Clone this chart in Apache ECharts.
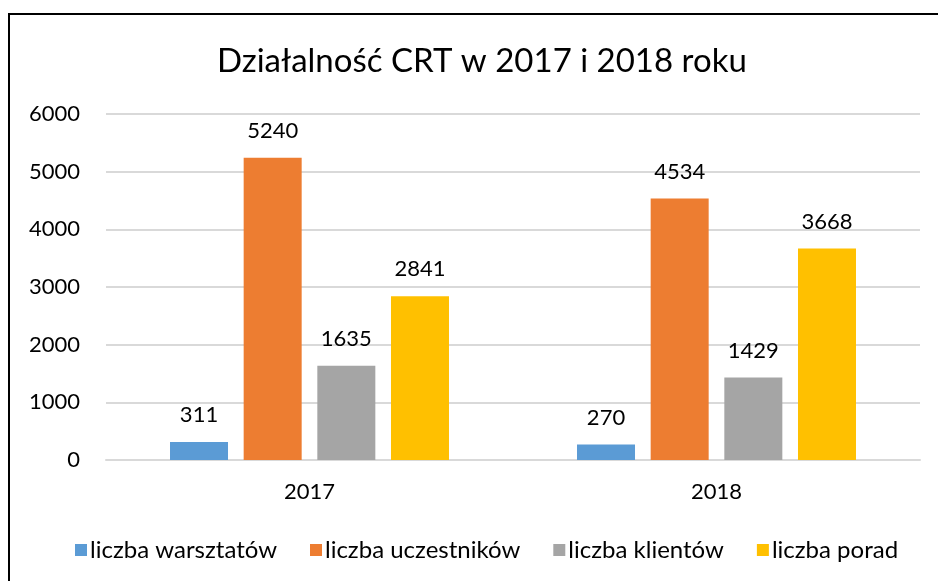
<!DOCTYPE html>
<html>
<head>
<meta charset="utf-8">
<script src="https://cdn.jsdelivr.net/npm/echarts@6/dist/echarts.min.js"></script>
<style>
  html, body { margin: 0; padding: 0; background: #fff; }
  #chart { width: 938px; height: 581px; }
</style>
</head>
<body>
<div id="chart"></div>
<script>
var years = ['2017', '2018'];
var seriesNames = ['liczba warsztatów', 'liczba uczestników', 'liczba klientów', 'liczba porad'];
var warsztaty = [311, 270];
var uczestnicy = [5240, 4534];
var klienci = [1635, 1429];
var porady = [2841, 3668];
var colors = ['#5b9bd5', '#ed7d31', '#a5a5a5', '#ffc000'];

var font = 'Lato, "Liberation Sans", sans-serif';
var values = [warsztaty, uczestnicy, klienci, porady];

var chart = echarts.init(document.getElementById('chart'), null, { renderer: 'canvas' });

var series = [];
for (var i = 0; i < seriesNames.length; i++) {
  series.push({
    name: seriesNames[i],
    type: 'bar',
    barWidth: 58,
    barGap: '27%',
    itemStyle: { color: colors[i] },
    label: {
      show: true,
      position: 'top',
      distance: 16,
      color: '#000',
      fontFamily: font,
      fontSize: 22
    },
    data: values[i]
  });
}

chart.setOption({
  animation: false,
  title: {
    text: 'Działalność CRT w 2017 i 2018 roku',
    left: 212,
    top: 40,
    textStyle: { fontFamily: font, fontSize: 33, fontWeight: 'normal', color: '#000' }
  },
  legend: {
    top: 533,
    left: 70,
    itemWidth: 12,
    itemHeight: 12,
    itemGap: 33,
    icon: 'rect',
    textStyle: { fontFamily: font, fontSize: 24, color: '#000', padding: [0, 0, 0, -2] },
    data: seriesNames
  },
  grid: { left: 106, right: 18, top: 114, bottom: 121 },
  xAxis: {
    type: 'category',
    data: years,
    axisLine: { lineStyle: { color: '#d9d9d9', width: 2 } },
    axisTick: { show: false },
    axisLabel: { fontFamily: font, fontSize: 22, color: '#000', margin: 21 }
  },
  yAxis: {
    type: 'value',
    min: 0,
    max: 6000,
    interval: 1000,
    axisLine: { show: false },
    axisTick: { show: false },
    splitLine: { lineStyle: { color: '#d9d9d9', width: 2 } },
    axisLabel: {
      fontFamily: font, fontSize: 22, color: '#000', margin: 26,
      formatter: function (v) { return String(v); }
    }
  },
  graphic: [{
    type: 'rect',
    shape: { x: 9, y: 14, width: 940, height: 580 },
    style: { fill: 'none', stroke: '#000', lineWidth: 2 },
    silent: true
  }],
  series: series
});
</script>
</body>
</html>
